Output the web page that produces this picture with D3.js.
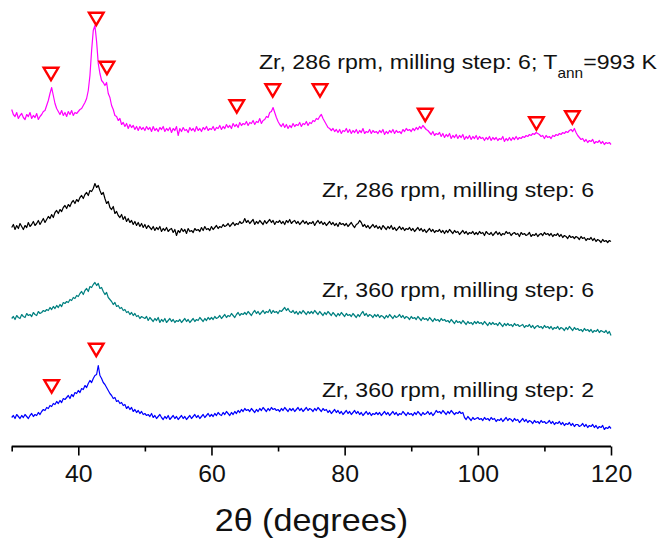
<!DOCTYPE html>
<html>
<head>
<meta charset="utf-8">
<script src="https://d3js.org/d3.v7.min.js"></script>
<style>
  body { margin: 0; background: #fff; }
  svg { display: block; font-family: Arial, "Liberation Sans", sans-serif; }
</style>
</head>
<body>
<div id="chart"></div>
<script>
"use strict";

// 2theta grid, 0.25 deg step (one row below = 5 deg)
var twoTheta = d3.range(0, 361).map(function(i){ return 30 + i * 0.25; });

// intensities (a.u.)
var annealed286 = [
  36,31,29,33,27,30,32,28,26,31,29,33,27,30,28,32,26,29,31,34,
  35,40,45,52,58,50,42,37,34,31,35,30,33,29,34,31,35,30,33,32,
  34,36,37,40,43,47,55,70,95,115,120,104,82,72,65,63,60,63,52,48,
  40,36,30,29,25,27,21,23,19,22,17,21,18,20,16,19,15,19,16,18,
  15,19,16,18,14,19,15,17,14,18,16,19,14,17,15,18,13,17,15,19,
  10,17,14,18,15,16,13,18,15,17,14,19,15,17,14,18,16,19,15,17,
  16,19,15,18,17,20,16,19,17,21,18,20,17,22,19,21,18,23,20,22,
  21,24,20,23,22,25,21,24,23,27,22,25,26,29,28,33,34,38,33,28,
  24,21,19,22,18,21,17,20,18,22,19,21,20,23,19,22,21,24,20,23,
  22,25,24,27,26,29,31,27,24,21,18,17,15,17,14,16,13,16,12,15,
  14,17,13,16,12,15,13,16,12,15,13,17,12,14,13,16,12,15,13,14,
  12,15,13,16,11,14,12,15,13,16,12,15,13,14,12,16,14,17,15,16,
  14,17,15,18,16,19,17,20,18,16,15,13,11,14,10,12,11,13,9,12,
  8,11,9,12,7,10,8,11,7,10,8,11,6,9,7,10,6,9,7,10,
  6,9,7,8,5,8,6,9,5,8,6,8,5,7,6,9,4,7,5,8,
  5,8,6,9,6,8,7,9,8,10,9,11,10,12,11,13,12,11,9,10,
  7,10,8,9,7,10,9,11,10,12,11,13,12,14,13,15,16,14,17,13,
  10,8,6,7,4,6,3,5,4,6,2,4,3,5,2,4,1,3,2,3,
  1
];
var milled286 = [
  18,21,16,20,17,22,19,16,20,18,23,19,21,24,20,22,25,21,24,27,
  23,26,29,27,31,28,33,35,32,36,34,38,40,37,41,39,43,45,42,46,
  44,48,50,47,51,53,50,55,54,57,62,58,60,55,51,53,47,42,44,38,
  36,39,32,34,30,28,31,26,29,24,27,23,25,21,24,20,23,19,22,18,
  21,17,20,18,16,19,15,18,16,19,14,17,15,18,14,16,17,13,16,10,
  15,13,17,14,16,12,17,14,15,13,17,15,16,14,18,15,19,16,17,15,
  19,16,18,20,17,19,18,21,19,20,22,19,21,23,20,22,21,24,22,23,
  27,23,25,22,24,26,21,24,22,25,23,21,25,22,24,26,23,25,21,24,
  23,25,22,24,21,25,23,26,22,24,25,22,24,21,23,25,22,24,21,23,
  22,24,20,23,25,22,24,21,23,20,22,24,21,23,20,22,19,23,21,22,
  20,22,19,21,23,20,18,21,22,25,23,19,21,18,20,17,19,21,18,20,
  17,19,16,20,18,16,19,17,20,16,18,15,17,19,16,18,15,17,16,18,
  15,17,14,16,18,15,17,14,16,13,15,17,14,16,13,15,14,16,13,15,
  12,15,13,16,14,12,15,13,14,11,13,15,12,14,11,13,12,14,11,13,
  11,14,12,13,10,14,12,11,13,10,12,14,11,13,10,12,11,14,12,13,
  10,12,13,11,12,9,13,11,12,10,11,13,9,11,10,12,9,11,12,10,
  13,11,12,10,12,9,11,10,12,9,11,8,10,9,7,10,8,9,7,9,
  8,6,9,7,8,5,7,6,8,5,7,4,6,5,3,6,4,5,3,5,
  4
];
var milled360s6 = [
  17,19,16,20,18,17,21,19,18,22,20,21,19,23,21,20,24,22,23,25,
  24,26,25,28,26,29,27,30,28,31,29,33,32,34,33,36,35,38,37,40,
  39,42,44,41,45,47,44,49,48,51,53,50,52,47,48,44,41,43,38,36,
  34,31,33,29,30,27,28,25,26,23,24,21,23,20,22,19,20,17,19,18,
  17,19,15,18,16,14,17,15,18,13,16,14,17,13,15,17,14,16,13,15,
  14,16,13,15,17,14,16,13,15,17,14,16,15,18,16,14,17,15,18,16,
  18,16,19,17,18,20,17,19,21,18,20,19,22,20,18,21,23,20,22,21,
  23,21,24,22,20,23,25,22,24,21,23,25,22,24,23,26,22,25,23,24,
  22,25,24,26,28,25,27,24,23,25,22,24,21,24,22,25,23,21,24,22,
  24,22,25,23,21,24,22,20,23,21,24,22,20,23,21,19,22,20,23,21,
  19,22,20,21,19,22,20,18,21,19,22,24,20,22,19,21,20,18,21,19,
  21,18,20,19,17,20,18,21,19,17,20,18,19,21,18,20,17,19,18,16,
  19,17,18,16,19,17,15,18,16,17,15,18,16,14,17,15,16,14,17,15,
  16,14,15,13,16,14,12,15,13,14,12,15,13,11,14,12,13,11,14,12,
  14,12,13,11,14,12,10,13,11,13,11,12,10,13,11,9,12,10,12,10,
  11,9,12,10,11,9,10,11,8,10,9,11,8,10,7,9,10,8,9,7,
  10,8,9,7,9,6,8,7,9,6,8,7,5,8,6,9,7,5,8,6,
  7,5,6,4,7,5,6,4,6,3,5,4,6,3,5,4,3,5,2,4,
  0
];
var milled360s2 = [
  13,15,12,16,14,12,15,13,16,14,12,15,17,14,16,15,18,16,19,21,
  20,23,22,25,24,27,26,29,27,30,28,32,31,33,35,32,36,34,38,37,
  40,38,42,41,45,43,47,50,48,52,55,56,65,55,52,48,46,43,40,37,
  35,32,33,29,30,27,28,25,26,22,24,21,23,19,21,18,20,17,19,16,
  17,15,16,14,17,13,15,12,14,16,13,11,14,12,15,11,13,15,12,14,
  11,13,15,12,14,11,13,15,12,14,16,13,15,12,14,16,13,15,17,14,
  16,14,17,15,18,16,15,18,16,19,17,15,18,16,19,17,20,18,21,19,
  22,20,21,19,22,20,18,21,19,22,20,23,21,19,22,20,23,21,22,20,
  21,19,22,20,23,21,19,22,20,22,19,21,23,20,22,19,21,23,20,22,
  21,19,22,20,23,21,19,22,20,21,18,20,17,19,21,18,20,17,19,16,
  18,20,17,19,16,18,20,17,19,16,18,15,17,19,16,18,15,17,16,18,
  16,18,15,17,19,16,18,15,17,19,16,18,15,17,16,19,17,15,18,16,
  17,15,18,16,19,17,15,18,16,17,19,16,18,15,17,20,18,19,17,20,
  18,16,19,17,20,18,16,18,17,19,17,18,13,11,14,12,10,13,11,12,
  13,11,12,10,13,11,12,10,13,11,12,9,11,10,12,9,11,13,10,12,
  11,9,12,10,11,8,10,12,9,11,8,10,9,7,10,8,9,7,10,8,
  9,7,8,10,7,9,6,8,7,9,6,8,5,7,6,8,5,7,4,6,
  6,4,5,7,4,6,3,5,4,6,3,5,2,4,3,5,1,3,2,4,
  2
];

var seriesNames = [
  "Zr, 360 rpm, milling step: 2",
  "Zr, 360 rpm, milling step: 6",
  "Zr, 286 rpm, milling step: 6",
  "Zr, 286 rpm, milling step: 6; T"
];
var seriesValues = [milled360s2, milled360s6, milled286, annealed286];
var seriesColors = ["#0000ff", "#008080", "#000000", "#ff00ff"];
// vertical stacking offsets (a.u.)
var offsets = [16, 111, 201, 301];

// reflection markers: [2theta, level above own baseline]
var peaksAnnealed = [[35.9, 71.5], [42.7, 126.5], [44.3, 77.5], [63.8, 39], [69.2, 55],
                     [76.3, 55], [92.1, 30.5], [108.8, 22], [114.2, 28]];
var peaksMilled360s2 = [[36.0, 44], [42.7, 80.5]];

var majorTicks = [40, 60, 80, 100, 120];
var minorTicks = [30, 50, 70, 90, 110];

seriesValues.forEach(function(v, i){
  if (v.length !== twoTheta.length) console.log("length mismatch", i, v.length);
});

// == BOILERPLATE ==
var W = 664, H = 547;
var margin = { top: 6, right: 53, bottom: 100, left: 11.7 };

var svg = d3.select("#chart")
            .append("svg")
            .attr("width", W)
            .attr("height", H);

var x = d3.scaleLinear()
  .domain([30, 120])
  .range([margin.left, W - margin.right]);

var y = d3.scaleLinear()
  .domain([0, 440])
  .range([446.5, 6.5]);

// traces
var line = d3.line()
  .defined(function(d){ return !isNaN(d[1]); })
  .x(function(d){ return x(d[0]); })
  .y(function(d){ return y(d[1]); });

seriesValues.forEach(function(vals, i){
  var pts = twoTheta.map(function(t, j){ return [t, vals[j] + offsets[i]]; });
  svg.append("path")
    .datum(pts)
    .attr("d", line)
    .attr("fill", "none")
    .attr("stroke", seriesColors[i])
    .attr("stroke-width", 1.2)
    .attr("stroke-linejoin", "round");
});

// hollow red triangles, pointing down
var tri = "M-7.3,-6.2L7.3,-6.2L0,6.2Z";
function drawPeaks(list, off){
  svg.append("g").selectAll("path")
    .data(list)
    .enter()
    .append("path")
    .attr("d", tri)
    .attr("transform", function(d){ return "translate(" + x(d[0]) + "," + y(d[1] + off) + ")"; })
    .attr("fill", "#fff")
    .attr("stroke", "#ff0000")
    .attr("stroke-width", 2.4);
}
drawPeaks(peaksAnnealed, offsets[3]);
drawPeaks(peaksMilled360s2, offsets[0]);

// labels (the original text is a bit wide, so stretch it horizontally)
var labelY = [397, 297, 197];
for (var k = 0; k < 3; k++) {
  svg.append("text")
    .attr("transform", "translate(594," + labelY[k] + ") scale(1.1,1)")
    .attr("text-anchor", "end")
    .attr("font-size", 21)
    .attr("fill", "#111")
    .text(seriesNames[k]);
}
var topLabel = svg.append("text")
  .attr("transform", "translate(657,69) scale(1.1,1)")
  .attr("text-anchor", "end")
  .attr("font-size", 21)
  .attr("fill", "#111");
topLabel.append("tspan").text(seriesNames[3]);
topLabel.append("tspan").attr("font-size", 14).attr("dy", 9).text("ann");
topLabel.append("tspan").attr("dy", -9).text("=993 K");

// x axis, major + minor
var axisY = 446.5;
svg.append("g")
  .attr("transform", "translate(0," + axisY + ")")
  .call(d3.axisBottom(x).tickValues(minorTicks).tickSize(5).tickSizeOuter(0).tickFormat(""))
  .call(function(g){ g.select(".domain").remove(); })
  .selectAll("line").attr("stroke-width", 1.6);

var ax = svg.append("g")
  .attr("transform", "translate(0," + axisY + ")")
  .call(d3.axisBottom(x).tickValues(majorTicks).tickSize(9).tickSizeOuter(0).tickPadding(10)
        .tickFormat(d3.format("d")));
ax.select(".domain").attr("stroke-width", 2).attr("d", "M" + x(30) + ",0H" + x(120));
ax.selectAll(".tick line").attr("stroke-width", 1.6);
ax.selectAll("text")
  .attr("font-size", 23)
  .attr("font-family", "Arial, 'Liberation Sans', sans-serif")
  .attr("fill", "#111")
  .attr("transform", "scale(1.08,1)");

svg.append("text")
  .attr("transform", "translate(" + ((x(30) + x(120)) / 2) + ",531) scale(1.1,1)")
  .attr("text-anchor", "middle")
  .attr("font-size", 31)
  .attr("fill", "#111")
  .text("2θ (degrees)");
</script>
</body>
</html>
